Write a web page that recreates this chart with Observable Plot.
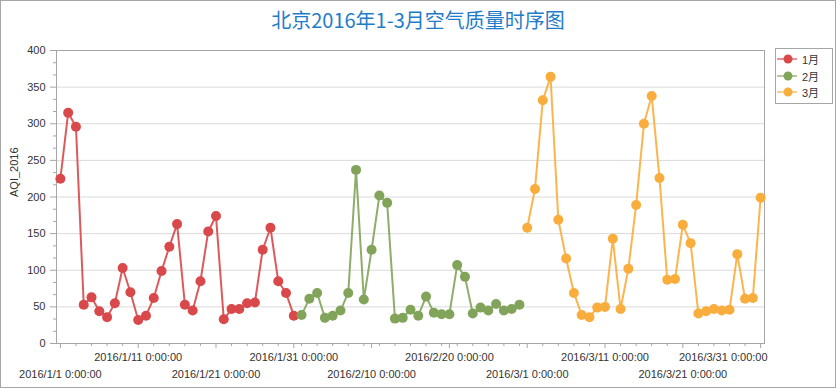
<!DOCTYPE html>
<html>
<head>
<meta charset="utf-8">
<script src="https://cdn.jsdelivr.net/npm/d3@7"></script>
<script src="https://cdn.jsdelivr.net/npm/@observablehq/plot@0.6"></script>
<style>
  html, body { margin: 0; padding: 0; background: #fff; }
  #wrap { position: relative; width: 836px; height: 388px; box-sizing: border-box; overflow: hidden; }
  #border { position: absolute; left: 0; top: 0; width: 836px; height: 388px; box-sizing: border-box; border: 1px solid #a6a6a6; pointer-events: none; }
  #title { position: absolute; left: 0; top: 6px; width: 836px; text-align: center; font-family: "Noto Sans CJK SC", "Noto Sans", sans-serif; font-size: 20px; color: #1f7cc8; line-height: 28px; }
  #chart { position: absolute; left: 0; top: 0; }
  #legend { position: absolute; left: 775px; top: 48px; width: 58px; height: 56px; box-sizing: border-box; border: 1px solid #a6a6a6; background: #fff; font-family: "Liberation Sans", "Noto Sans CJK SC", sans-serif; font-size: 11px; color: #333; padding-top: 2px; }
  .item { display: flex; align-items: center; height: 16.5px; }
  .item svg { display: block; margin-left: 1px; margin-right: 5px; }
</style>
</head>
<body>
<div id="wrap">
  <div id="chart"></div>
  <div id="title">北京2016年1-3月空气质量时序图</div>
  <div id="legend"></div>
  <div id="border"></div>
</div>
<script>
// ---- data ----
const months = ["1月", "2月", "3月"];
const monthColors = ["#d9484a", "#82a45a", "#f9ad3d"];
const janAQI = [225,315,296,53,63,44,36,55,103,70,32,38,62,99,132,163,53,45,85,153,174,33,47,47,55,56,128,158,85,69,38];
const febAQI = [39,61,69,35,38,45,69,237,60,128,202,192,34,35,46,38,64,42,40,40,107,91,41,49,45,54,45,47,53];
const marAQI = [158,211,332,364,169,116,69,39,36,49,50,143,47,102,189,300,338,226,87,88,162,137,41,44,47,45,46,122,61,62,199];
const yTicks = [0, 50, 100, 150, 200, 250, 300, 350, 400];
const xTickLabelsUpper = ["2016/1/11 0:00:00", "2016/1/31 0:00:00", "2016/2/20 0:00:00", "2016/3/11 0:00:00", "2016/3/31 0:00:00"];
const xTickLabelsLower = ["2016/1/1 0:00:00", "2016/1/21 0:00:00", "2016/2/10 0:00:00", "2016/3/1 0:00:00", "2016/3/21 0:00:00"];
const yLabel = "AQI_2016";

// ---- build table ----
const series = [janAQI, febAQI, marAQI];
const data = [];
series.forEach((vals, m) => {
  vals.forEach((v, i) => {
    data.push({ date: new Date(Date.UTC(2016, m, i + 1)), aqi: v, month: months[m] });
  });
});
const parseLabel = s => {
  const [y, mo, d] = s.split(" ")[0].split("/").map(Number);
  return new Date(Date.UTC(y, mo - 1, d));
};
const upper = xTickLabelsUpper.map(s => ({ date: parseLabel(s), label: s }));
const lower = xTickLabelsLower.map(s => ({ date: parseLabel(s), label: s }));
const upperInner = upper.slice(0, -1);
const upperLast = upper.slice(-1);
const majorX = [...upper, ...lower].map(d => d.date);
const start = new Date(Date.UTC(2016, 0, 1));
const end = new Date(Date.UTC(2016, 2, 31));
const minorX = d3.utcDay.every(2).range(start, new Date(+end + 1)).filter(d => !majorX.some(m => +m === +d));
const yMinor = d3.range(0, 400, 50 / 3).filter(v => Math.abs(v % 50) > 1e-6);

const chart = Plot.plot({
  width: 836,
  height: 388,
  marginLeft: 56,
  marginRight: 72,
  marginTop: 50,
  marginBottom: 45,
  style: { fontFamily: "Liberation Sans, Noto Sans CJK SC, sans-serif", fontSize: "11px", color: "#333", background: "transparent", overflow: "visible" },
  x: { type: "utc", domain: [new Date(Date.UTC(2015, 11, 31, 12)), new Date(Date.UTC(2016, 2, 31, 12))] },
  y: { domain: [0, 400] },
  color: { domain: months, range: monthColors },
  marks: [
    Plot.ruleY(yTicks.filter(v => v > 0 && v < 400), { stroke: "#dadada", strokeWidth: 1 }),
    Plot.frame({ stroke: "#a6a6a6" }),
    Plot.axisY({ ticks: yTicks, tickSize: 6, tickPadding: 5, stroke: "#a6a6a6", label: null, fill: "#333", fontSize: 11 }),
    Plot.axisY({ ticks: yMinor, tickSize: 3, text: null, stroke: "#a6a6a6", label: null }),
    Plot.axisX({ ticks: majorX, tickSize: 5, text: null, stroke: "#a6a6a6", label: null }),
    Plot.axisX({ ticks: minorX, tickSize: 3, text: null, stroke: "#a6a6a6", label: null }),
    Plot.text(upperInner, { x: "date", text: "label", frameAnchor: "bottom", dy: 14, lineAnchor: "middle", fill: "#333", fontSize: 11 }),
    Plot.text(upperLast, { x: "date", text: "label", frameAnchor: "bottom", dy: 14, dx: 7, textAnchor: "end", lineAnchor: "middle", fill: "#333", fontSize: 11 }),
    Plot.text(lower, { x: "date", text: "label", frameAnchor: "bottom", dy: 31, lineAnchor: "middle", fill: "#333", fontSize: 11 }),
    Plot.text([yLabel], { text: d => d, frameAnchor: "left", dx: -42, rotate: -90, fill: "#333", fontSize: 11 }),
    Plot.line(data, { x: "date", y: "aqi", z: "month", stroke: "month", strokeWidth: 2, strokeOpacity: 0.9 }),
    Plot.dot(data, { x: "date", y: "aqi", fill: "month", r: 5, stroke: "none" })
  ]
});
document.getElementById("chart").appendChild(chart);

// legend
const legend = document.getElementById("legend");
months.forEach((m, i) => {
  const div = document.createElement("div");
  div.className = "item";
  div.innerHTML = `<svg width="20" height="12"><line x1="0" y1="6" x2="20" y2="6" stroke="${monthColors[i]}" stroke-width="1.2"/><circle cx="11" cy="6" r="4.5" fill="${monthColors[i]}"/></svg><span>${m}</span>`;
  legend.appendChild(div);
});
</script>
</body>
</html>
